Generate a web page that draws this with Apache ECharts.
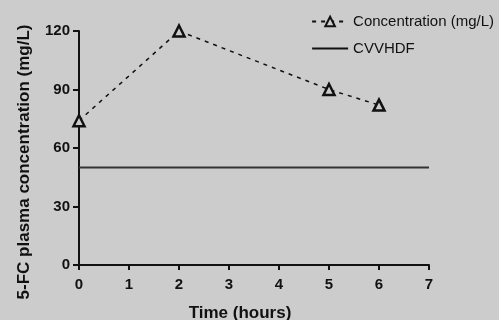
<!DOCTYPE html>
<html>
<head>
<meta charset="utf-8">
<script src="https://cdn.jsdelivr.net/npm/echarts@6/dist/echarts.min.js"></script>
<style>
  html, body { margin: 0; padding: 0; background: #cccccc; }
  #chart { width: 499px; height: 320px; }
</style>
</head>
<body>
<div id="chart"></div>
<script>
var hours = [0, 2, 5, 6];
var concentration = [74, 120, 90, 82];
var cvvhdfX = [0, 7];
var cvvhdfY = [50, 50];
var yTicks = [0, 30, 60, 90, 120];

var myChart = echarts.init(document.getElementById('chart'));

var concData = hours.map(function (h, i) { return [h, concentration[i]]; });
var cvvData = cvvhdfX.map(function (h, i) { return [h, cvvhdfY[i]]; });

var option = {
  backgroundColor: '#cccccc',
  textStyle: { fontFamily: 'Liberation Sans, Arial, sans-serif' },
  legend: {
    top: 9,
    right: 0,
    orient: 'vertical',
    itemGap: 12,
    itemWidth: 36,
    itemHeight: 12,
    textStyle: { fontSize: 15, color: '#111' },
    data: [
      'Concentration (mg/L)',
      { name: 'CVVHDF', itemStyle: { opacity: 0 }, lineStyle: { color: '#111' } }
    ]
  },
  grid: { left: 79, right: 70, top: 31, bottom: 55, outerBoundsMode: 'none', containLabel: false },
  xAxis: {
    type: 'value',
    min: 0,
    max: 7,
    interval: 1,
    name: 'Time (hours)',
    nameLocation: 'middle',
    nameGap: 40,
    nameTextStyle: { fontSize: 17, fontWeight: 'bold', color: '#111', padding: [0, 28, 0, 0] },
    axisLine: { lineStyle: { color: '#111', width: 2 } },
    axisTick: { length: 5, lineStyle: { color: '#111', width: 2 } },
    axisLabel: { fontSize: 15, fontWeight: 'bold', color: '#111', margin: 12 },
    splitLine: { show: false }
  },
  yAxis: {
    type: 'value',
    min: yTicks[0],
    max: yTicks[yTicks.length - 1],
    interval: 30,
    name: '5-FC plasma concentration (mg/L)',
    nameLocation: 'middle',
    nameGap: 46,
    nameTextStyle: { fontSize: 17, fontWeight: 'bold', color: '#111', padding: [0, 28, 0, 0] },
    axisLine: { show: true, lineStyle: { color: '#111', width: 2 } },
    axisTick: { show: true, length: 6, lineStyle: { color: '#111', width: 2 } },
    axisLabel: { fontSize: 15, fontWeight: 'bold', color: '#111', margin: 9 },
    splitLine: { show: false }
  },
  series: [
    {
      name: 'Concentration (mg/L)',
      type: 'line',
      data: concData,
      symbol: 'triangle',
      symbolSize: 11,
      itemStyle: { color: '#cccccc', borderColor: '#111', borderWidth: 2.5 },
      lineStyle: { color: '#111', width: 1.5, type: [4, 5] },
      z: 3
    },
    {
      name: 'CVVHDF',
      type: 'line',
      data: cvvData,
      symbol: 'none',
      lineStyle: { color: '#333', width: 2 },
      itemStyle: { color: '#333' }
    }
  ]
};

myChart.setOption(option);
</script>
</body>
</html>
